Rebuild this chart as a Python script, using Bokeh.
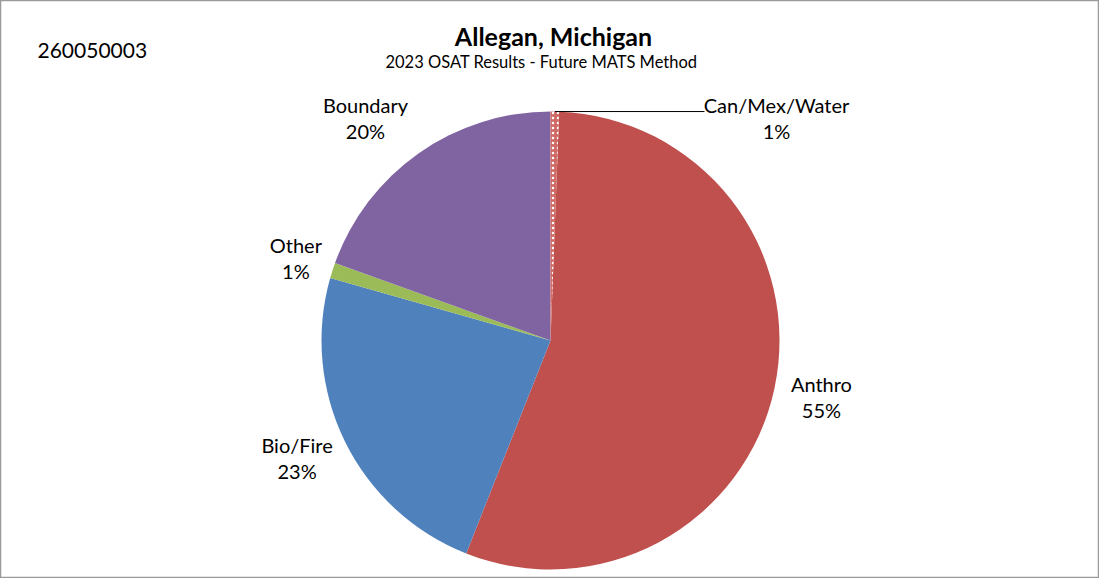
import math
from bokeh.plotting import figure
from bokeh.models import Range1d, ColumnDataSource
from bokeh.core.properties import value
from bokeh.embed import file_html
from bokeh.resources import INLINE

# ---- data ----
site_id = "260050003"
title = "Allegan, Michigan"
subtitle = "2023 OSAT Results - Future MATS Method"
categories = ["Can/Mex/Water", "Anthro", "Bio/Fire", "Other", "Boundary"]
shares = [0.6, 55.4, 23.4, 1.1, 19.5]
colors = ["#C0504D", "#C0504D", "#4F81BD", "#9BBB59", "#8064A2"]

# ---- layout (pixel units, pie centre at 0,0, y up) ----
W, H = 1099, 578
CX, CY = 550, 340          # pie centre measured from the frame's top-left
R = 229
FONT = "Lato"


def px(xp, yp):
    """frame pixel position -> data coords"""
    return xp - CX, CY - yp


p = figure(width=W, height=H, output_backend="svg", toolbar_location=None,
           x_range=Range1d(-CX, W - CX), y_range=Range1d(-(H - CY), CY),
           min_border=0, min_border_left=0, min_border_right=0,
           min_border_top=0, min_border_bottom=0)
p.axis.visible = False
p.grid.visible = False
p.outline_line_color = "#9A9A9A"
p.outline_line_width = 1.5
p.background_fill_color = "white"
p.border_fill_color = "white"

total = sum(shares)
starts, ends, mids = [], [], []
acc = 0.0
for s in shares:
    t1 = acc / total * 2 * math.pi
    acc += s
    t2 = acc / total * 2 * math.pi
    # clockwise from 12 o'clock -> bokeh anticlockwise from +x
    starts.append(math.pi / 2 - t2)
    ends.append(math.pi / 2 - t1)
    mids.append((t1 + t2) / 2)

src = ColumnDataSource(dict(start=starts[1:], end=ends[1:], color=colors[1:]))
p.wedge(x=0, y=0, radius=R, start_angle="start", end_angle="end",
        fill_color="color", line_color=None, source=src)

# patterned slice
p.wedge(x=0, y=0, radius=R, start_angle=starts[0], end_angle=ends[0],
        fill_color="#D06A67", line_color=None,
        hatch_pattern="dot", hatch_color="white", hatch_scale=5, hatch_weight=1.5)

# ---- data labels ----
pct = ["%d%%" % round(s / total * 100) for s in shares]
label_r = 1.2 * R
nudge_x = [0, 2, -7, 7, -27]
nudge_y = [0, 0, 4, -1.5, -2]
lx, ly = [], []
for i, m in enumerate(mids):
    lx.append(label_r * math.sin(m) + nudge_x[i])
    ly.append(label_r * math.cos(m) + nudge_y[i])

# Can/Mex/Water label is pulled out with a leader line
ex = R * math.sin(mids[0])
ey = R * math.cos(mids[0])
lead_end = px(704, 0)[0]
p.line([ex, lead_end], [ey, ey], line_color="black", line_width=1)
lx[0] = px(776, 0)[0]
ly[0] = ey - 6.5

name_src = ColumnDataSource(dict(x=lx, y=[v + 13 for v in ly], t=categories))
pct_src = ColumnDataSource(dict(x=lx, y=[v - 13 for v in ly], t=pct))
for s in (name_src, pct_src):
    p.text(x="x", y="y", text="t", source=s, text_align="center",
           text_baseline="middle", text_font=value(FONT),
           text_font_size="20px", text_color="#000000")

# ---- titles ----
tx, ty = px(553, 35)
p.text(x=[tx], y=[ty], text=[title], text_align="center", text_baseline="middle",
       text_font=value(FONT), text_font_size="25px", text_font_style="bold",
       text_color="black")
sx, sy = px(541, 61)
p.text(x=[sx], y=[sy], text=[subtitle], text_align="center", text_baseline="middle",
       text_font=value(FONT), text_font_size="16.5px", text_color="black")
ix, iy = px(37, 50)
p.text(x=[ix], y=[iy], text=[site_id], text_align="left", text_baseline="middle",
       text_font=value(FONT), text_font_size="21px", text_color="black")

open("out.html", "w").write(file_html(p, INLINE))
